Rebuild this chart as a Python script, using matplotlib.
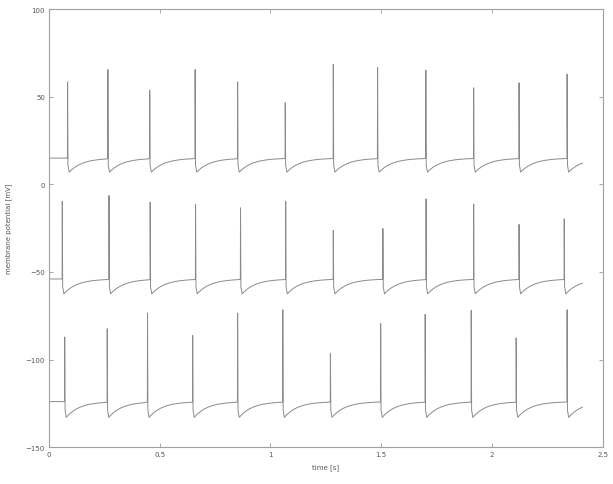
import numpy as np
import matplotlib
matplotlib.use("Agg")
import matplotlib.pyplot as plt

# spike times [s] and peak values [mV]
spikes_top = [0.083, 0.265, 0.454, 0.659, 0.851, 1.066, 1.283, 1.483, 1.701, 1.917, 2.122, 2.339]
peaks_top = [58.5, 65.5, 53.8, 65.5, 58.5, 46.6, 68.4, 66.7, 65.2, 55.1, 58.0, 62.9]

spikes_mid = [0.059, 0.270, 0.456, 0.661, 0.864, 1.068, 1.283, 1.507, 1.702, 1.917, 2.122, 2.326]
peaks_mid = [-9.7, -6.4, -10.2, -11.6, -13.4, -9.7, -26.3, -25.2, -8.3, -11.2, -22.9, -19.7]

spikes_bot = [0.070, 0.262, 0.444, 0.648, 0.851, 1.055, 1.270, 1.497, 1.698, 1.906, 2.109, 2.339]
peaks_bot = [-87.1, -82.4, -73.5, -86.2, -73.5, -71.6, -96.6, -79.5, -74.2, -72.0, -87.7, -71.6]

# plateau and after-spike trough per trace [mV]
rest = [15.0, -54.0, -124.0]
trough = [7.0, -62.5, -133.0]
t_end = 2.41


def trace(spk, pk, v_rest, v_min):
    t = [0.0]
    v = [v_rest]
    for i, (ts, p) in enumerate(zip(spk, pk)):
        t += [ts, ts + 0.0008, ts + 0.0025, ts + 0.008]
        v += [v_rest, p, v_min + 4, v_min]
        nxt = spk[i + 1] if i + 1 < len(spk) else t_end
        tt = np.arange(ts + 0.010, nxt - 0.001, 0.004)
        t += list(tt)
        v += list(v_rest - (v_rest - v_min) * np.exp(-(tt - ts - 0.008) / 0.06))
    return np.array(t), np.array(v)


fig = plt.figure(figsize=(6.13, 4.85), dpi=100)
ax = fig.add_axes([0.080, 0.076, 0.903, 0.903])

for spk, pk, r, m in zip([spikes_top, spikes_mid, spikes_bot],
                         [peaks_top, peaks_mid, peaks_bot], rest, trough):
    t, v = trace(spk, pk, r, m)
    ax.plot(t, v, color="#8a8a8a", lw=0.7)

ax.set_xlim(0, 2.5)
ax.set_ylim(-150, 100)
ax.set_xticks([0, 0.5, 1, 1.5, 2, 2.5])
ax.set_xticklabels(["0", "0.5", "1", "1.5", "2", "2.5"])
ax.set_yticks([-150, -100, -50, 0, 50, 100])
ax.tick_params(direction="in", top=True, right=True, length=3, width=0.6,
               colors="#999999", labelcolor="#555555", labelsize=5, pad=3)
for s in ax.spines.values():
    s.set_color("#a0a0a0")
    s.set_linewidth(0.8)
ax.set_xlabel("time [s]", fontsize=5, color="#555555", labelpad=4)
ax.set_ylabel("membrane potential [mV]", fontsize=5, color="#555555", labelpad=10)

fig.savefig("out.png", dpi=100)
